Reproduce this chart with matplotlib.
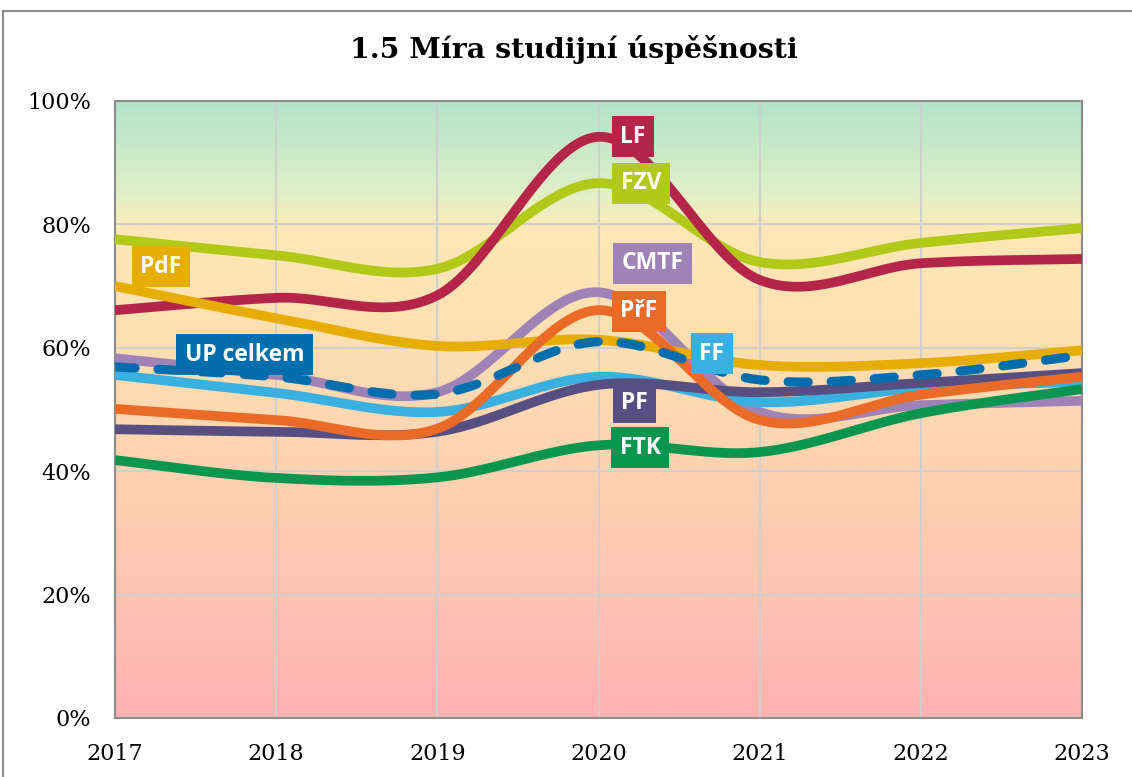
import numpy as np
import matplotlib
matplotlib.use("Agg")
import matplotlib.pyplot as plt
from matplotlib.colors import LinearSegmentedColormap
from matplotlib.lines import Line2D
from matplotlib.patches import Rectangle

years = [2017, 2018, 2019, 2020, 2021, 2022, 2023]
LF = [66.1, 68.1, 68.5, 94.2, 71.0, 73.7, 74.4]
FZV = [77.6, 75.0, 72.8, 86.7, 73.9, 77.0, 79.4]
PdF = [70.0, 64.8, 60.3, 61.3, 57.2, 57.5, 59.6]
CMTF = [58.3, 55.6, 52.8, 69.0, 49.6, 50.7, 51.4]
PrF = [50.1, 48.3, 46.9, 66.1, 48.3, 52.4, 55.3]
FF = [55.6, 52.7, 49.6, 55.3, 51.2, 53.5, 54.5]
PF = [46.8, 46.4, 46.4, 54.0, 52.8, 54.3, 55.9]
FTK = [41.8, 38.9, 39.0, 44.2, 43.1, 49.4, 53.3]
UP = [56.9, 55.3, 52.5, 61.0, 54.8, 55.6, 58.8]

series_names = ["CMTF", "FZV", "LF", "PdF", "FF", "PF", "PřF", "FTK", "UP celkem"]
series_values = [CMTF, FZV, LF, PdF, FF, PF, PrF, FTK, UP]
series_colors = ["#A083B6", "#B1C918", "#B5254A", "#E6AE05", "#3AB0E0",
                 "#574F82", "#EA6B28", "#0B9650", "#006EAD"]

y_ticks = [0, 20, 40, 60, 80, 100]
y_ticklabels = ["0%", "20%", "40%", "60%", "80%", "100%"]
title = "1.5 Míra studijní úspěšnosti"

# label box centres (year, percent)
label_pos = {
    "LF": (2020.214, 94.2), "FZV": (2020.264, 86.7), "CMTF": (2020.335, 73.7),
    "PřF": (2020.251, 65.9), "FF": (2020.704, 59.0), "PF": (2020.223, 51.1),
    "FTK": (2020.260, 43.8), "PdF": (2017.285, 73.1), "UP celkem": (2017.803, 58.9),
}


def smooth(x, y, n=40):
    x = np.asarray(x, float)
    y = np.asarray(y, float)
    px = np.concatenate([[x[0]], x, [x[-1]]])
    py = np.concatenate([[y[0]], y, [y[-1]]])
    ox, oy = [], []
    t = np.linspace(0, 1, n)
    for i in range(1, len(px) - 2):
        p0 = np.array([px[i], py[i]])
        p1 = np.array([px[i + 1], py[i + 1]])
        c1 = p0 + (np.array([px[i + 1], py[i + 1]]) - np.array([px[i - 1], py[i - 1]])) / 6
        c2 = p1 - (np.array([px[i + 2], py[i + 2]]) - np.array([px[i], py[i]])) / 6
        b = ((1 - t) ** 3)[:, None] * p0 + (3 * (1 - t) ** 2 * t)[:, None] * c1 \
            + (3 * (1 - t) * t ** 2)[:, None] * c2 + (t ** 3)[:, None] * p1
        ox.extend(b[:, 0])
        oy.extend(b[:, 1])
    return np.array(ox), np.array(oy)


fig = plt.figure(figsize=(11.32, 7.77), dpi=100)
ax = fig.add_axes([115 / 1132, 1 - 718 / 777, (1082 - 115) / 1132, (718 - 101) / 777])

# background gradient
stops = [(0.0, "#FFB1B1"), (0.2, "#FEC4B1"), (0.4, "#FDD2B2"), (0.6, "#FDDFB2"),
         (0.79, "#FEE8B6"), (0.815, "#F2EDBE"), (0.86, "#DDEFC8"), (1.0, "#B1E3CA")]
cmap = LinearSegmentedColormap.from_list("bg", stops)
grad = np.linspace(0, 1, 512).reshape(-1, 1)
ax.imshow(grad, extent=[2017, 2023, 0, 100], origin="lower", aspect="auto",
          cmap=cmap, zorder=0, interpolation="bilinear")

ax.set_xlim(2017, 2023)
ax.set_ylim(0, 100)
ax.set_xticks(years)
ax.set_yticks(y_ticks)
ax.set_yticklabels(y_ticklabels)
ax.grid(True, color="#CFCFCF", linewidth=1.5, zorder=1)
ax.tick_params(length=0, labelsize=16)
ax.tick_params(axis="y", pad=17)
ax.tick_params(axis="x", pad=18)
for lab in ax.get_xticklabels() + ax.get_yticklabels():
    lab.set_fontfamily("DejaVu Serif")
for s in ax.spines.values():
    s.set_color("#8C8C8C")
    s.set_linewidth(1.5)

for name, vals, col in zip(series_names, series_values, series_colors):
    sx, sy = smooth(years, vals)
    if name == "UP celkem":
        ax.plot(sx, sy, color=col, linewidth=6.6, linestyle=(0, (2.2, 2.5)),
                dash_capstyle="round", solid_capstyle="round", zorder=5)
    else:
        ax.plot(sx, sy, color=col, linewidth=7, solid_capstyle="butt", zorder=3)

texts = []
for name, col in zip(series_names, series_colors):
    x, y = label_pos[name]
    t = ax.text(x, y, name, ha="center", va="center", color="white", fontsize=16.5,
                fontweight="bold", family="Open Sans", zorder=7)
    texts.append((t, col))

fig.canvas.draw()
renderer = fig.canvas.get_renderer()
for t, col in texts:
    bb = t.get_window_extent(renderer)
    cx, cy = ax.transData.transform(t.get_position())
    w = bb.width + 17
    h = 41
    rect = Rectangle((cx - w / 2, cy - h / 2), w, h, transform=None,
                     facecolor=col, edgecolor="none", zorder=6)
    ax.add_artist(rect)

fig.text(574 / 1132, 1 - 50 / 777, title, ha="center", va="center",
         fontsize=20.5, fontweight="bold", family="DejaVu Serif")

# outer chart border
fig.add_artist(Line2D([3 / 1132, 3 / 1132], [0, 1 - 11 / 777], color="#8C8C8C", linewidth=1.5))
fig.add_artist(Line2D([3 / 1132, 1], [1 - 11 / 777, 1 - 11 / 777], color="#8C8C8C", linewidth=1.5))

fig.savefig("out.png", dpi=100)
